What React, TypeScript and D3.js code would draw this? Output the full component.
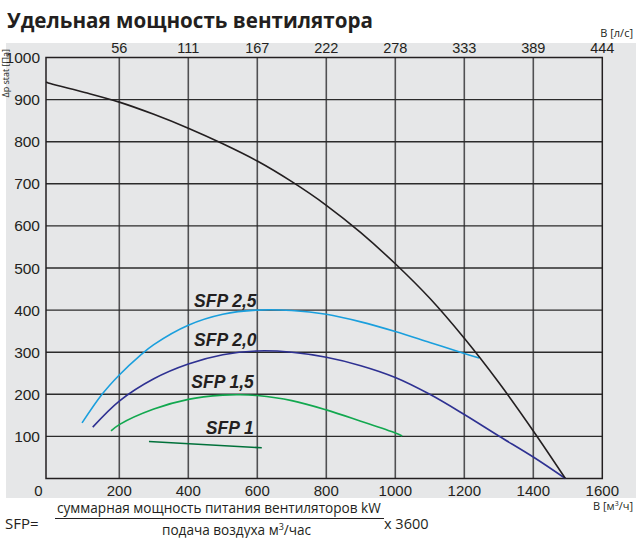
import React from 'react';
import * as d3 from 'd3';

const W = 636;
const H = 538;

// bottom axis, m³/h
const flowTicks = [0, 200, 400, 600, 800, 1000, 1200, 1400, 1600];
// top axis, l/s (same gridlines)
const litreTicks = ['56', '111', '167', '222', '278', '333', '389', '444'];
const pressureTicks = [0, 100, 200, 300, 400, 500, 600, 700, 800, 900, 1000];

// fan curve [m³/h, Pa]
const fanCurve: [number, number][] = [
  [-12, 942], [0, 938], [100, 917], [200, 894], [300, 865], [400, 832], [500, 795],
  [600, 754], [700, 705], [800, 649], [900, 584], [1000, 510], [1100, 428], [1200, 333],
  [1300, 228], [1400, 113], [1493, 0],
];

const sfp25: [number, number][] = [
  [92, 132], [150, 200], [200, 246], [260, 292], [300, 318], [400, 364], [500, 390],
  [600, 400], [700, 399], [800, 390], [900, 372], [1000, 349], [1100, 323], [1200, 297],
  [1243, 286],
];
const sfp20: [number, number][] = [
  [123, 122], [200, 184], [300, 237], [400, 272], [500, 294], [600, 303], [700, 300],
  [800, 288], [900, 268], [1000, 240], [1100, 200], [1200, 152], [1300, 101], [1400, 51],
  [1493, 0],
];
const sfp15: [number, number][] = [
  [176, 113], [200, 128], [300, 165], [400, 188], [500, 198], [550, 199], [600, 197],
  [700, 185], [800, 163], [900, 136], [1000, 108], [1020, 101],
];
const sfp10: [number, number][] = [[286, 88], [613, 73]];

const sfpNames = ['SFP 2,5', 'SFP 2,0', 'SFP 1,5', 'SFP 1'];
const sfpSeries = [sfp25, sfp20, sfp15, sfp10];
const sfpColors = ['#1a9fdd', '#2e3192', '#12a84f', '#00713a'];
// label anchor in data units (right end of the text, baseline)
const sfpLabelAt: [number, number][] = [[598, 407], [598, 314], [590, 215], [590, 106]];

const x = d3.scaleLinear().domain([0, 1600]).range([50.3, 602.3]);
const y = d3.scaleLinear().domain([0, 1000]).range([478.5, 57.5]);

const line = d3.line<[number, number]>()
  .x(d => x(d[0]))
  .y(d => y(d[1]))
  .curve(d3.curveCatmullRom.alpha(0.5));

const tickFont = '"Liberation Sans", Arial, sans-serif';
const textFont = '"Open Sans", "Noto Sans", sans-serif';

export default function App() {
  const left = 46;
  const right = x(1600);
  const top = y(1000);
  const bottom = y(0);

  return (
    <svg width={W} height={H} style={{ position: 'absolute', left: 0, top: 0, background: '#fff' }}>
      <rect x={6} y={43} width={W - 6} height={455} fill="#e6e7e8" />

      <text x={7} y={28} fontFamily={textFont} fontWeight={700} fontSize={20.6} fill="#231f20">
        Удельная мощность вентилятора
      </text>

      {/* grid */}
      {flowTicks.slice(1, -1).map(t => (
        <line key={'v' + t} x1={x(t)} x2={x(t)} y1={top} y2={bottom} stroke="#505052" strokeWidth={1.6} />
      ))}
      {pressureTicks.slice(1, -1).map(t => (
        <line key={'h' + t} x1={left} x2={right} y1={y(t)} y2={y(t)} stroke="#2b2b2b" strokeWidth={1.4} />
      ))}
      <rect x={left} y={top} width={right - left} height={bottom - top} fill="none" stroke="#231f20" strokeWidth={1.5} />

      {/* curves */}
      {sfpSeries.map((s, i) => (
        <path key={sfpNames[i]} d={line(s) ?? ''} fill="none" stroke={sfpColors[i]} strokeWidth={1.6} />
      ))}
      <path d={line(fanCurve) ?? ''} fill="none" stroke="#231f20" strokeWidth={1.6} />

      {sfpNames.map((n, i) => (
        <text key={n} x={x(sfpLabelAt[i][0])} y={y(sfpLabelAt[i][1])} textAnchor="end"
          fontFamily={tickFont} fontWeight={700} fontStyle="italic" fontSize={17.5} fill="#231f20">
          {n}
        </text>
      ))}

      {/* bottom axis labels */}
      {flowTicks.map(t => (
        <text key={'b' + t} x={t === 0 ? x(t) - 12 : x(t)} y={496} textAnchor="middle"
          fontFamily={tickFont} fontSize={15} fill="#231f20">
          {t}
        </text>
      ))}
      {/* top axis labels */}
      {litreTicks.map((t, i) => (
        <text key={'t' + t} x={x(flowTicks[i + 1])} y={53} textAnchor="middle"
          fontFamily={tickFont} fontSize={14.5} fill="#231f20">
          {t}
        </text>
      ))}
      {/* left axis labels */}
      {pressureTicks.slice(1).map(t => (
        <text key={'l' + t} x={40} y={y(t)} dy="0.36em" textAnchor="end"
          fontFamily={tickFont} fontSize={15.5} fill="#231f20">
          {t}
        </text>
      ))}

      <text transform="translate(9,49) rotate(-90)" textAnchor="end" fontFamily={textFont} fontSize={9} fill="#231f20">
        Δp stat [Па]
      </text>
      <text x={633} y={37} textAnchor="end" fontFamily={textFont} fontSize={11} fill="#231f20">В [л/с]</text>
      <text x={633} y={510} textAnchor="end" fontFamily={textFont} fontSize={11} fill="#231f20">
        В [м<tspan dy={-4} fontSize={7}>3</tspan><tspan dy={4}>/ч]</tspan>
      </text>

      {/* SFP formula */}
      <g fontFamily={textFont} fill="#231f20">
        <text x={5} y={529} fontSize={15}>SFP=</text>
        <text x={57} y={513} fontSize={13.6}>суммарная мощность питания вентиляторов kW</text>
        <line x1={55} x2={384} y1={518.5} y2={518.5} stroke="#231f20" strokeWidth={1.2} />
        <text x={384} y={529} fontSize={14.5}>x 3600</text>
        <text x={162} y={535} fontSize={13.6}>
          подача воздуха м<tspan dy={-5} fontSize={9}>3</tspan><tspan dy={5}>/час</tspan>
        </text>
      </g>
    </svg>
  );
}
